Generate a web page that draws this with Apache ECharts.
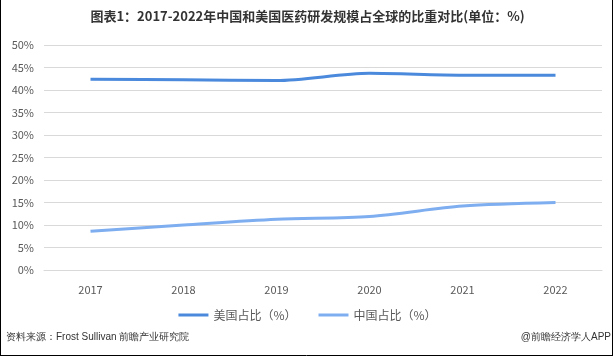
<!DOCTYPE html>
<html>
<head>
<meta charset="utf-8">
<script src="https://cdn.jsdelivr.net/npm/echarts@6/dist/echarts.min.js"></script>
<style>
html,body{margin:0;padding:0;background:#fff;}
#c{width:615px;height:358px;}
</style>
</head>
<body>
<div id="c"></div>
<script>
const years = ['2017','2018','2019','2020','2021','2022'];
const usShare = [42.4, 42.3, 42.1, 43.7, 43.3, 43.3];
const cnShare = [8.6, 10.0, 11.3, 11.9, 14.2, 15.0];
const seriesNames = ['美国占比（%）', '中国占比（%）'];
const titleText = '图表1：2017-2022年中国和美国医药研发规模占全球的比重对比(单位：%)';
const sourceText = '资料来源：Frost Sullivan 前瞻产业研究院';
const brandText = '@前瞻经济学人APP';

const chart = echarts.init(document.getElementById('c'));
const font = '"Microsoft YaHei","Noto Sans CJK SC",Arial,sans-serif';
chart.setOption({
  backgroundColor: '#fff',
  textStyle: {fontFamily: font},
  title: {
    text: titleText,
    left: 'center', top: 5,
    textStyle: {fontSize: 13, fontWeight: 'bold', color: '#333', fontFamily: font}
  },
  legend: {
    data: seriesNames,
    bottom: 32,
    left: 'center',
    itemWidth: 30, itemHeight: 3,
    itemGap: 22,
    icon: 'rect',
    textStyle: {fontSize: 12, color: '#595959', fontFamily: font}
  },
  grid: {left: 44, right: 13, top: 45, bottom: 88},
  xAxis: {
    type: 'category',
    data: years,
    boundaryGap: true,
    axisLine: {show: true, lineStyle: {color: '#d9d9d9'}},
    axisTick: {show: false},
    axisLabel: {color: '#595959', fontSize: 11, margin: 14}
  },
  yAxis: {
    type: 'value',
    min: 0, max: 50, interval: 5,
    axisLine: {show: false},
    axisTick: {show: false},
    splitLine: {lineStyle: {color: '#d9d9d9'}},
    axisLabel: {formatter: '{value}%', color: '#595959', fontSize: 11, margin: 10}
  },
  series: [
    {
      name: seriesNames[0], type: 'line', data: usShare, smooth: 0.3,
      symbol: 'none', lineStyle: {width: 3, color: '#4a89dc'}, itemStyle: {color: '#4a89dc'}
    },
    {
      name: seriesNames[1], type: 'line', data: cnShare, smooth: 0.3,
      symbol: 'none', lineStyle: {width: 3, color: '#7eaef0'}, itemStyle: {color: '#7eaef0'}
    }
  ],
  graphic: [
    {type: 'text', left: 6, top: 332, style: {text: sourceText, fontSize: 10, fill: '#333', font: '10px ' + font}},
    {type: 'text', right: 4, top: 332, style: {text: brandText, fontSize: 10, fill: '#333', font: '10px ' + font}},
    {type: 'line', shape: {x1: 0.5, y1: 0, x2: 0.5, y2: 355.5}, style: {stroke: '#000', lineWidth: 1}},
    {type: 'line', shape: {x1: 612.5, y1: 0, x2: 612.5, y2: 355.5}, style: {stroke: '#000', lineWidth: 1}},
    {type: 'line', shape: {x1: 0, y1: 355.5, x2: 613, y2: 355.5}, style: {stroke: '#000', lineWidth: 1}}
  ]
});
</script>
</body>
</html>
